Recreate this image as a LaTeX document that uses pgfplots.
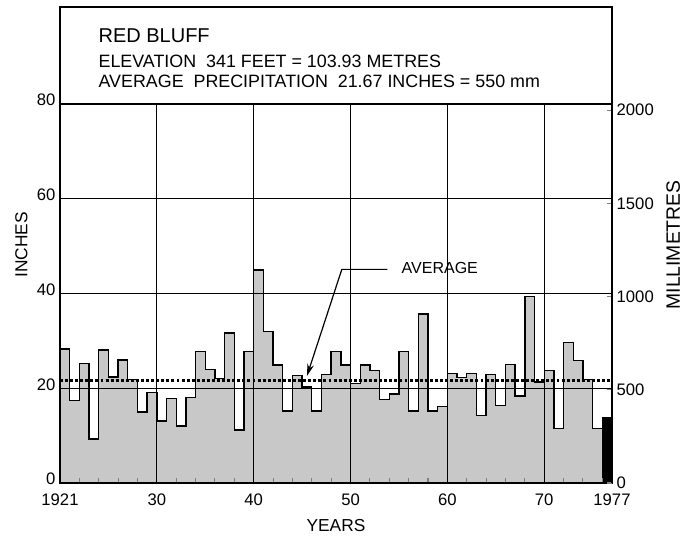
\documentclass[border=0pt]{standalone}
\usepackage{pgfplots}
\pgfplotsset{compat=1.18}
\usepackage{fontspec}
\setmainfont{Liberation Sans}
\usetikzlibrary{arrows.meta}
\definecolor{barfill}{RGB}{200,200,200}
\begin{document}
\begin{tikzpicture}
\path[use as bounding box] (-45pt,-42pt) rectangle (474pt,362.25pt);
\begin{axis}[
  at={(0,0)}, anchor=south west,
  scale only axis, width=414pt, height=357pt,
  xmin=0, xmax=57, ymin=0, ymax=100.5,
  clip=false,
  axis on top,
  axis line style={line width=1.2pt},
  /pgf/number format/assume math mode=true,
  xtick={0,10,20,30,40,50,57},
  xticklabels={\textrm{1921},\textrm{30},\textrm{40},\textrm{50},\textrm{60},\textrm{70},\textrm{1977}},
  minor xtick={2,4,6,8,12,14,16,18,22,24,26,28,32,34,36,38,42,44,46,48,52,54,56},
  ytick={0,20,40,60,80},
  tick align=inside,
  major tick length=0pt,
  minor tick length=4pt,
  xtick pos=bottom, ytick pos=left,
  minor tick style={line width=0.8pt},
  ticklabel style={font=\fontsize{12.5}{14}\selectfont},
  xticklabel style={yshift=-4.5pt},
  yticklabel style={yshift=3pt},
]
\addplot[const plot, fill=barfill, draw=black, line width=1pt] coordinates {
(0,28.3) (1,17.4) (2,25.2) (3,9.3) (4,28.1) (5,22.4) (6,26.0) (7,21.9) (8,15.0) (9,19.1)
(10,13.1) (11,17.9) (12,12.0) (13,18.1) (14,27.7) (15,23.9) (16,22.1) (17,31.7) (18,11.2) (19,27.7)
(20,45.0) (21,32.0) (22,24.9) (23,15.2) (24,22.7) (25,20.3) (26,15.2) (27,22.9) (28,27.8) (29,24.9)
(30,21.0) (31,24.9) (32,23.7) (33,17.7) (34,18.8) (35,27.7) (36,15.2) (37,35.7) (38,15.2) (39,16.1)
(40,23.1) (41,22.3) (42,23.1) (43,14.3) (44,22.9) (45,16.3) (46,25.0) (47,18.4) (48,39.4) (49,21.3)
(50,23.8) (51,11.5) (52,29.6) (53,25.8) (54,21.9) (55,11.5) (56,13.7) (57,13.7)
} \closedcycle;
\addplot[const plot, fill=black, draw=black, line width=1pt] coordinates {(56,13.7) (57,13.7)} \closedcycle;
% average
\addplot[line width=2.3pt, dash pattern=on 2.2pt off 1.6pt] coordinates {(0,21.67) (57,21.67)};
% grid (only up to 80)
\draw[line width=0.9pt] (axis cs:10,0) -- (axis cs:10,80);
\draw[line width=0.9pt] (axis cs:20,0) -- (axis cs:20,80);
\draw[line width=0.9pt] (axis cs:30,0) -- (axis cs:30,80);
\draw[line width=0.9pt] (axis cs:40,0) -- (axis cs:40,80);
\draw[line width=0.9pt] (axis cs:50,0) -- (axis cs:50,80);
\draw[line width=0.9pt] (axis cs:0,20) -- (axis cs:57,20);
\draw[line width=0.9pt] (axis cs:0,40) -- (axis cs:57,40);
\draw[line width=0.9pt] (axis cs:0,60) -- (axis cs:57,60);
\draw[line width=1.2pt] (axis cs:0,80) -- (axis cs:57,80);
% title
\node[anchor=base west, font=\fontsize{15}{17}\selectfont] at (axis cs:3.5,93.1) {RED BLUFF};
\node[anchor=base west, font=\fontsize{13.4}{15}\selectfont] at (axis cs:3.5,87.8) {ELEVATION\ \ 341 FEET = 103.93 METRES};
\node[anchor=base west, font=\fontsize{13.4}{15}\selectfont] at (axis cs:3.5,83.6) {AVERAGE\ \ PRECIPITATION\ \ 21.67 INCHES = 550 mm};
% annotation
\draw[line width=0.9pt, -{Stealth[length=9pt,width=5pt]}] (axis cs:33.8,45.1) -- (axis cs:29.1,45.1) -- (axis cs:25.5,22.6);
\node[anchor=west, font=\fontsize{12}{14}\selectfont] at (axis cs:34.8,45.3) {AVERAGE};
% labels
\node[rotate=90, font=\fontsize{13}{15}\selectfont] at ([xshift=-29pt]rel axis cs:0,0.5) {INCHES};
\node[font=\fontsize{13}{15}\selectfont] at ([yshift=-32pt]rel axis cs:0.5,0) {YEARS};
\node[rotate=90, font=\fontsize{14.5}{16}\selectfont] at ([xshift=46pt]rel axis cs:1,0.5) {MILLIMETRES};
\end{axis}
\begin{axis}[
  at={(0,0)}, anchor=south west,
  scale only axis, width=414pt, height=357pt,
  xmin=0, xmax=57, ymin=0, ymax=2552.7,
  axis x line=none,
  axis y line*=right,
  axis line style={line width=1.2pt},
  /pgf/number format/assume math mode=true,
  /pgf/number format/1000 sep={},
  scaled y ticks=false,
  ytick={0,500,1000,1500,2000},
  tick align=inside,
  major tick length=4pt,
  major tick style={line width=0.8pt},
  ticklabel style={font=\fontsize{12.5}{14}\selectfont},
]
\end{axis}
\end{tikzpicture}
\end{document}
